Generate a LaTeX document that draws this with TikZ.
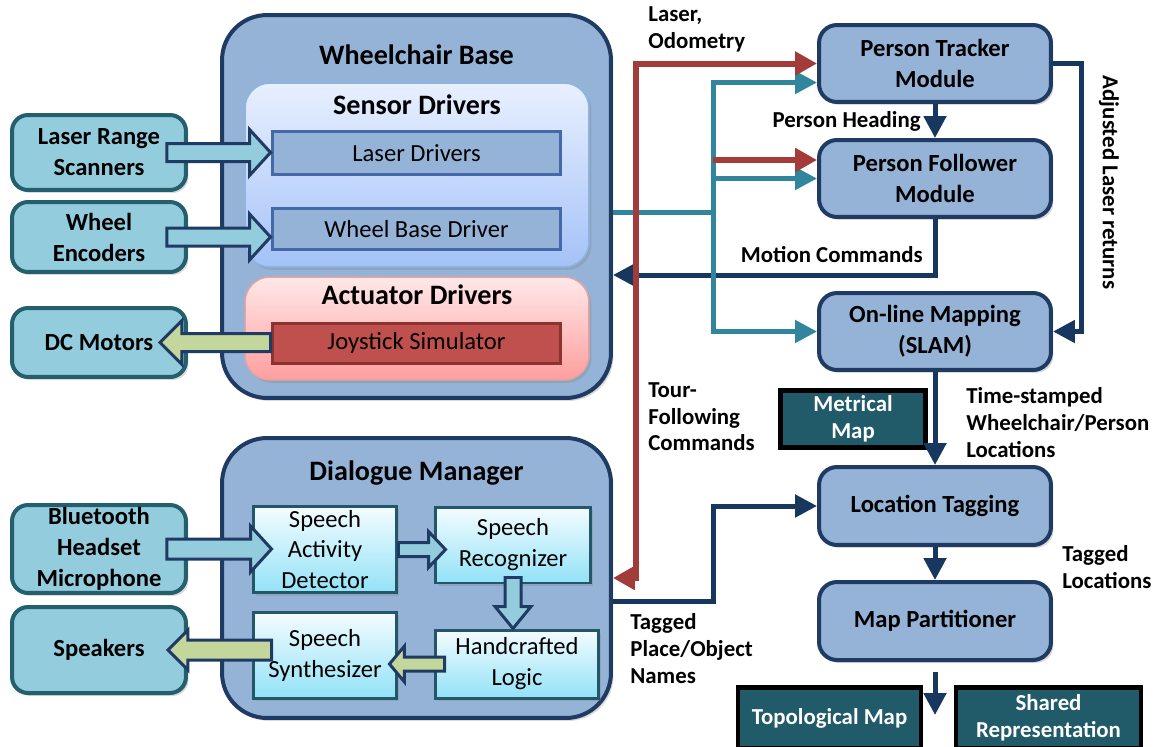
\documentclass[tikz,border=0pt]{standalone}
\usepackage{fontspec}
\setmainfont{Carlito}
\usetikzlibrary{calc,arrows.meta,shadows}
\definecolor{cNavy}{HTML}{1F3A63}
\definecolor{cLine}{HTML}{17375E}
\definecolor{cFill}{HTML}{95B3D7}
\definecolor{cInnerB}{HTML}{4468A8}
\definecolor{cRed}{HTML}{A33B3A}
\definecolor{cTeal}{HTML}{31859C}
\definecolor{cLeft}{HTML}{93CDDD}
\definecolor{cLeftB}{HTML}{245F6E}
\definecolor{cJoy}{HTML}{C0504D}
\definecolor{cJoyB}{HTML}{8C3230}
\definecolor{cGreen}{HTML}{C3D69B}
\definecolor{cMap}{HTML}{215A68}
\definecolor{cSensT}{HTML}{E8F0FF}
\definecolor{cSensB}{HTML}{A4C2F8}
\definecolor{cSensD}{HTML}{8DB4E3}
\definecolor{cActT}{HTML}{FFE8E8}
\definecolor{cActB}{HTML}{FF9E9E}
\definecolor{cActD}{HTML}{E5A3A3}
\definecolor{cSpT}{HTML}{F4FCFF}
\definecolor{cSpB}{HTML}{92E2F7}
\definecolor{cSpD}{HTML}{24566A}
\newcommand\fTitle{\fontsize{16}{19}\selectfont\bfseries}
\newcommand\fMod{\fontsize{14}{17.6}\selectfont\bfseries}
\newcommand\fLeft{\fontsize{14}{17.6}\selectfont\bfseries}
\newcommand\fInner{\fontsize{14}{17.6}\selectfont}
\newcommand\fLabel{\fontsize{13}{15.3}\selectfont\bfseries}
\newcommand\fMap{\fontsize{13}{15.5}\selectfont\bfseries}
% horizontal block arrow: style, start, tip, half shaft, half head, signed head length
\newcommand\myhblk[6]{%
  \draw[#1] ($(#2)+(0,-#4)$) -- ($(#3)+({-(#6)},-#4)$) -- ($(#3)+({-(#6)},-#5)$) -- (#3)
    -- ($(#3)+({-(#6)},#5)$) -- ($(#3)+({-(#6)},#4)$) -- ($(#2)+(0,#4)$) -- cycle;}
% vertical (downward) block arrow
\newcommand\myvblk[6]{%
  \draw[#1] ($(#2)+(-#4,0)$) -- ($(#3)+(-#4,{-(#6)})$) -- ($(#3)+(-#5,{-(#6)})$) -- (#3)
    -- ($(#3)+(#5,{-(#6)})$) -- ($(#3)+(#4,{-(#6)})$) -- ($(#2)+(#4,0)$) -- cycle;}
\begin{document}
\begin{tikzpicture}[x=0.02cm,y=-0.02cm,
  every node/.style={inner sep=0pt,align=center},
  shadowed/.style={drop shadow={shadow xshift=0.05cm,shadow yshift=-0.06cm,opacity=0.3}},
  container/.style={shadowed,draw=cNavy,line width=0.08cm,fill=cFill,rounded corners=0.9cm},
  sensorbox/.style={shadowed,draw=cSensD,line width=0.03cm,top color=cSensT,bottom color=cSensB,rounded corners=0.5cm},
  actbox/.style={shadowed,draw=cActD,line width=0.03cm,top color=cActT,bottom color=cActB,rounded corners=0.5cm},
  innerbox/.style={draw=cInnerB,line width=0.06cm,fill=cFill,font=\fInner},
  joybox/.style={draw=cJoyB,line width=0.06cm,fill=cJoy,font=\fInner},
  leftbox/.style={shadowed,draw=cLeftB,line width=0.08cm,fill=cLeft,rounded corners=0.32cm,font=\fLeft},
  speechbox/.style={shadowed,draw=cSpD,line width=0.06cm,top color=cSpT,bottom color=cSpB,font=\fInner},
  module/.style={shadowed,draw=cNavy,line width=0.08cm,fill=cFill,rounded corners=0.36cm,font=\fMod},
  mapbox/.style={draw=black,line width=0.09cm,fill=cMap,text=white,font=\fMap},
  titletxt/.style={font=\fTitle},
  lbl/.style={font=\fLabel,align=left},
  blueblk/.style={draw=cNavy,line width=0.06cm,fill=cLeft,line join=miter},
  greenblk/.style={draw=cNavy,line width=0.06cm,fill=cGreen,line join=miter},
  tip/.style={-{Triangle[length=0.44cm,width=0.44cm]}},
  navyln/.style={draw=cLine,line width=0.1cm,tip},
  tealln/.style={draw=cTeal,line width=0.1cm,tip},
  redln/.style={draw=cRed,line width=0.12cm}
]
\useasboundingbox (0,0) rectangle (1156,747);

% ---------- Wheelchair base ----------
\node[container,minimum width=7.78cm,minimum height=7.66cm] (wb) at (416.5,206.5) {};
\node[titletxt] (wbt) at ($(wb.north)+(0,42)$) {Wheelchair Base};
\node[sensorbox,minimum width=6.88cm,minimum height=3.68cm] (sd) at (417,175) {};
\node[titletxt] (sdt) at ($(sd.north)+(0,22)$) {Sensor Drivers};
\node[innerbox,minimum width=5.78cm,minimum height=0.88cm] (ld) at (416.5,153) {Laser Drivers};
\node[innerbox,minimum width=5.78cm,minimum height=0.84cm] (wbd) at (416.5,229) {Wheel Base Driver};
\node[actbox,minimum width=6.88cm,minimum height=2.06cm] (ad) at (417,328.5) {};
\node[titletxt] (adt) at ($(ad.north)+(0,18)$) {Actuator Drivers};
\node[joybox,minimum width=5.78cm,minimum height=0.8cm] (js) at (416.5,343) {Joystick Simulator};

% ---------- Dialogue manager ----------
\node[container,minimum width=7.78cm,minimum height=5.6cm] (dm) at (416.5,578) {};
\node[titletxt] (dmt) at ($(dm.north)+(0,37)$) {Dialogue Manager};
\node[speechbox,minimum width=2.88cm,minimum height=1.74cm] (sad) at (325,549.5) {Speech\\Activity\\Detector};
\node[speechbox,minimum width=3.12cm,minimum height=1.52cm] (sr) at (513,545) {Speech\\Recognizer};
\node[speechbox,minimum width=3.28cm,minimum height=1.36cm] (hl) at (517,664) {Handcrafted\\Logic};
\node[speechbox,minimum width=2.88cm,minimum height=1.72cm] (ss) at (325,655) {Speech\\Synthesizer};

% ---------- Left devices ----------
\node[leftbox,minimum width=3.48cm,minimum height=1.5cm] (lrs) at (99,152.5) {Laser Range\\Scanners};
\node[leftbox,minimum width=3.48cm,minimum height=1.4cm] (we) at (99,237) {Wheel\\Encoders};
\node[leftbox,minimum width=3.48cm,minimum height=1.38cm] (dc) at (99,342.5) {DC Motors};
\node[leftbox,minimum width=3.48cm,minimum height=1.76cm] (bt) at (99,549) {Bluetooth\\Headset\\Microphone};
\node[leftbox,minimum width=3.48cm,minimum height=1.72cm] (spk) at (99,650) {Speakers};

% ---------- Right modules ----------
\node[module,minimum width=4.64cm,minimum height=1.54cm] (pt) at (935,63.5) {Person Tracker\\Module};
\node[module,minimum width=4.64cm,minimum height=1.54cm] (pf) at (935,178.5) {Person Follower\\Module};
\node[module,minimum width=4.64cm,minimum height=1.54cm] (om) at (935,331.5) {On-line Mapping\\(SLAM)};
\node[module,minimum width=4.64cm,minimum height=1.56cm] (lt) at (935,506) {Location Tagging};
\node[module,minimum width=4.64cm,minimum height=1.56cm] (mp) at (935,621) {Map Partitioner};

\node[mapbox,minimum width=2.9cm,minimum height=1.14cm] (mm) at (853,419) {Metrical\\Map};
\node[mapbox,minimum width=3.66cm,minimum height=1.22cm] (tm) at (829.5,718) {Topological Map};
\node[mapbox,minimum width=3.7cm,minimum height=1.22cm] (sh) at (1048.5,718) {Shared\\Representation};

% ---------- Block arrows ----------
\coordinate (s1) at ($(lrs.east)+(-21,0)$);
\coordinate (t1) at (ld.west |- lrs.east);
\myhblk{blueblk}{s1}{t1}{9}{23}{21}
\coordinate (s2) at ($(we.east)+(-21,0)$);
\coordinate (t2) at (wbd.west |- we.east);
\myhblk{blueblk}{s2}{t2}{9}{23}{21}
\coordinate (t3) at ($(dc.east)+(-28,0)$);
\coordinate (s3) at (js.west |- t3);
\myhblk{greenblk}{s3}{t3}{9}{22}{-22}
\coordinate (s4) at ($(bt.east)+(-21,0)$);
\coordinate (t4) at ($(sad.west |- bt.east)+(20,0)$);
\myhblk{blueblk}{s4}{t4}{10}{23}{21}
\coordinate (s5) at (sad.east);
\coordinate (t5) at ($(sr.west |- sad.east)+(12,0)$);
\myhblk{blueblk}{s5}{t5}{7}{18}{17}
\coordinate (s6) at ($(sr.south)+(0,-7)$);
\coordinate (t6) at (sr.south |- hl.north);
\myvblk{blueblk}{s6}{t6}{8}{18}{22}
\coordinate (s7) at ($(hl.west)+(11,0)$);
\coordinate (t7) at ($(ss.east |- hl.west)+(-9,0)$);
\myhblk{greenblk}{s7}{t7}{7}{18}{-15}
\coordinate (t8) at ($(spk.east)+(-20,0)$);
\coordinate (s8) at ($(ss.west |- spk.east)+(20,0)$);
\myhblk{greenblk}{s8}{t8}{10}{20}{-20}

% ---------- Navy connectors ----------
\draw[navyln] (pt.south) -- (pf.north);
\coordinate (mc) at (935,275);
\draw[navyln] (pf.south) -- (mc) -- (mc -| wb.east);
\coordinate (ar) at (1081,331.5);
\draw[navyln] (pt.east) -| (ar) -- (om.east);
\draw[navyln] (om.south) -- (lt.north);
\draw[navyln] (lt.south) -- (mp.north);
\coordinate (mpe) at (935,715);
\draw[navyln] ($(mp.south)+(0,10)$) -- (mpe);
\coordinate (tp) at (713,601);
\draw[navyln] (dm.east |- tp) -- (tp) |- (lt.west);

% ---------- Teal connectors ----------
\coordinate (tj) at (713,212);
\draw[tealln,-] (wb.east |- tj) -- (tj);
\draw[tealln] (tj) |- ($(pt.west)+(0,19)$);
\draw[tealln] (tj) |- (pf.west);
\draw[tealln] (tj) |- (om.west);

% ---------- Red connectors ----------
\coordinate (rb) at (636,578);
\draw[redln,{Triangle[length=0.44cm,width=0.46cm]}-{Triangle[length=0.44cm,width=0.46cm]}] (pt.west) -| (rb) -- (rb -| dm.east);
\coordinate (rbr) at (713,160);
\draw[redln,-{Triangle[length=0.44cm,width=0.46cm]}] (rbr) -- (rbr -| pf.west);

% ---------- Labels ----------
\node[lbl,anchor=north west] (l1) at (648,6) {Laser,\\Odometry};
\node[lbl,anchor=east] (l2) at (921,121) {Person Heading};
\node[lbl,anchor=east] (l3) at (923,255) {Motion Commands};
\node[lbl,rotate=-90] (l4) at (1109,182.5) {Adjusted Laser returns};
\node[lbl,anchor=north west] (l5) at (648,382) {Tour-\\Following\\Commands};
\node[lbl,anchor=north west] (l6) at (966,387) {Time-stamped\\Wheelchair/Person\\Locations};
\node[lbl,anchor=north west] (l7) at (1062,545) {Tagged\\Locations};
\node[lbl,anchor=north west] (l8) at (630,613) {Tagged\\Place/Object\\Names};
\end{tikzpicture}
\end{document}
